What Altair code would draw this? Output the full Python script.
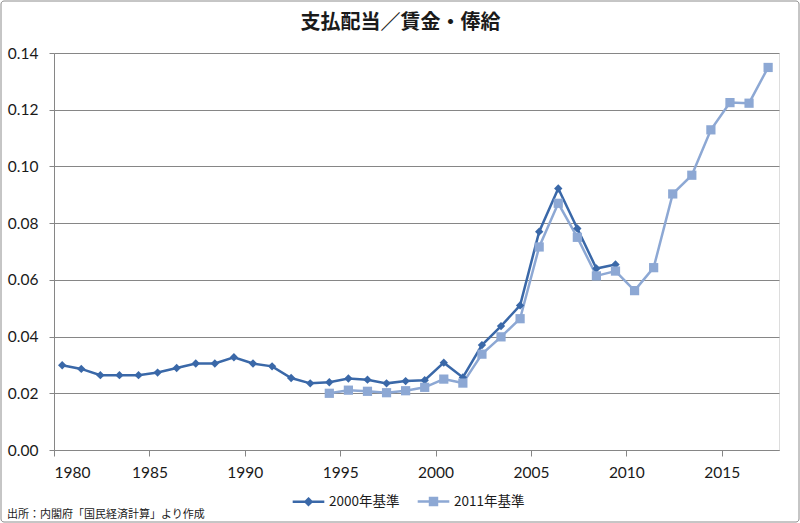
import altair as alt
import pandas as pd

# ---- data ----
title_text = "支払配当／賃金・俸給"
source_note = "出所：内閣府「国民経済計算」より作成"
series_names = ["2000年基準", "2011年基準"]

years_2000 = list(range(1980, 2010))
vals_2000 = [0.0299, 0.0286, 0.0264, 0.0264, 0.0264, 0.0273, 0.0289, 0.0305, 0.0305, 0.0327,
             0.0305, 0.0295, 0.0254, 0.0235, 0.0239, 0.0252, 0.0248, 0.0235, 0.0243, 0.0246,
             0.0308, 0.0256, 0.0370, 0.0437, 0.0510, 0.0770, 0.0922, 0.0781, 0.0640, 0.0654]

years_2011 = list(range(1994, 2018))
vals_2011 = [0.0200, 0.0211, 0.0207, 0.0202, 0.0209, 0.0221, 0.0250, 0.0236, 0.0338, 0.0399,
             0.0463, 0.0716, 0.0870, 0.0750, 0.0614, 0.0631, 0.0562, 0.0643, 0.0903, 0.0969,
             0.1129, 0.1225, 0.1223, 0.1349]

x_ticks = [1980, 1985, 1990, 1995, 2000, 2005, 2010, 2015]
y_ticks = [0.00, 0.02, 0.04, 0.06, 0.08, 0.10, 0.12, 0.14]

colors = ["#3A68A8", "#8DA8D4"]

rows = []
for y, v in zip(years_2000, vals_2000):
    rows.append({"series": series_names[0], "year": y, "value": v})
for y, v in zip(years_2011, vals_2011):
    rows.append({"series": series_names[1], "year": y, "value": v})
df = pd.DataFrame(rows)

W, H = 725, 397
font = "Lato, 'Noto Sans CJK JP', sans-serif"
cjk = "'Noto Sans CJK JP', sans-serif"

base = alt.Chart(df).transform_calculate(xpos="datum.year + 0.43")

xenc = alt.X("xpos:Q", scale=alt.Scale(domain=[1980, 2018], nice=False, zero=False),
             axis=alt.Axis(values=x_ticks, format="d", title=None, grid=False,
                           tickSize=6, labelPadding=9, labelFontSize=15.5,
                           labelFont=font, labelColor="#1a1a1a",
                           domainColor="#868686", tickColor="#868686"))
yenc = alt.Y("value:Q", scale=alt.Scale(domain=[0, 0.14], nice=False),
             axis=alt.Axis(values=y_ticks, format=".2f", title=None, grid=True,
                           gridColor="#868686", gridWidth=1, tickSize=5,
                           labelPadding=11, labelFontSize=15.5, labelFont=font,
                           labelColor="#1a1a1a", domainColor="#868686",
                           tickColor="#868686"))

legend = alt.Legend(
    title=None, orient="none", direction="horizontal",
    legendX=237, legendY=H + 34, labelFont=cjk, labelFontSize=13.5,
    labelColor="#1a1a1a", symbolSize=1000, symbolStrokeWidth=2.5,
    symbolOpacity=1, columnPadding=12, labelOffset=3)

cscale = alt.Scale(domain=series_names, range=colors)
color = alt.Color("series:N", scale=cscale, legend=legend)

lines = base.mark_line(strokeWidth=2.5).encode(
    x=xenc, y=yenc, color=color, order=alt.Order("year:Q"))

pts_2000 = base.transform_filter(alt.datum.series == series_names[0]).mark_point(
    filled=True, opacity=1, shape="diamond", size=70).encode(x=xenc, y=yenc, color=color)
pts_2011 = base.transform_filter(alt.datum.series == series_names[1]).mark_point(
    filled=True, opacity=1, shape="square", size=85).encode(x=xenc, y=yenc, color=color)

legend_paths = ["M-1,0H1M0,-0.19L0.19,0L0,0.19L-0.19,0Z",
                "M-1,0H1M-0.22,-0.22H0.22V0.22H-0.22Z"]

legend_layer = base.transform_filter("false").mark_point(filled=True).encode(
    x=xenc, y=yenc,
    color=color,
    stroke=alt.Stroke("series:N", scale=cscale, legend=legend),
    shape=alt.Shape("series:N", scale=alt.Scale(domain=series_names, range=legend_paths), legend=legend),
)

note = alt.Chart(pd.DataFrame({"t": [source_note]})).mark_text(
    align="left", baseline="middle", font=cjk, fontSize=11, color="#1a1a1a"
).encode(x=alt.value(-47), y=alt.value(462), text="t:N")

border = alt.Chart(pd.DataFrame({"a": [0]})).mark_rect(
    fill=None, stroke="#8c8c8c", strokeWidth=1, cornerRadius=3, clip=False
).encode(x=alt.value(-53), x2=alt.value(745), y=alt.value(-52), y2=alt.value(469))

chart = alt.layer(border, lines, pts_2000, pts_2011, legend_layer, note).properties(
    width=W, height=H,
    title=alt.TitleParams(title_text, font=cjk, fontSize=20, fontWeight="bold",
                          color="#1a1a1a", anchor="middle", dx=-16, offset=-32),
    autosize=alt.AutoSizeParams(type="none"),
    padding={"left": 54, "top": 53, "right": 21, "bottom": 73},
).configure_view(stroke=None).configure(background="white")

chart.save("out.html", embed_options={"renderer": "svg", "actions": False})
